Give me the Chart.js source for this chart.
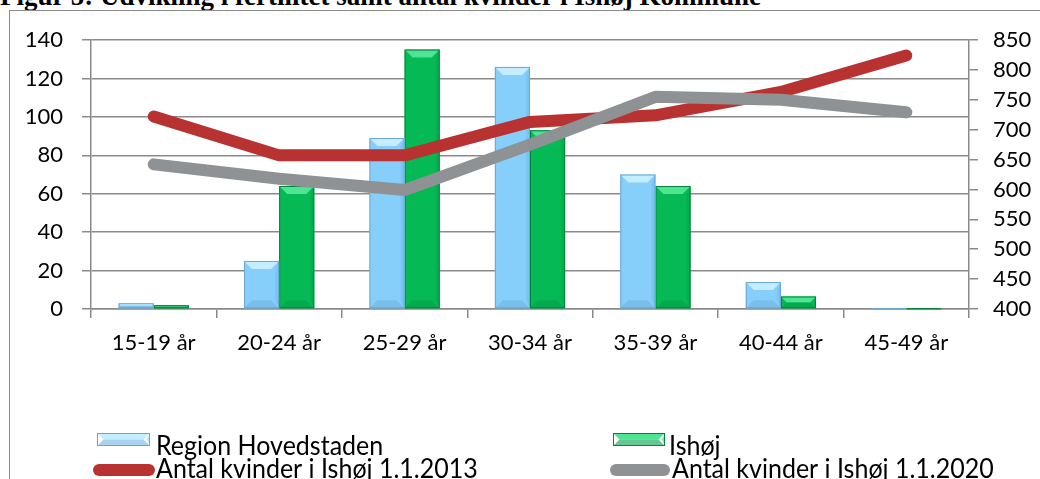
<!DOCTYPE html>
<html>
<head>
<meta charset="utf-8">
<script src="https://cdn.jsdelivr.net/npm/chart.js@4"></script>
<style>
  html, body { margin: 0; padding: 0; background: #fff; overflow: hidden; }
  #wrap { position: relative; width: 1040px; height: 479px; overflow: hidden; }
  #title { position: absolute; left: 0; top: -17px; font: bold 27px/27px "Liberation Serif", serif; white-space: nowrap; color: #000; }
  #frame { position: absolute; left: 9px; top: 10px; width: 1100px; height: 600px; border: 1.5px solid #8a8a8a; }
  canvas { position: absolute; left: 0; top: 0; }
</style>
</head>
<body>
<div id="wrap">
  <div id="title">Figur 5: Udvikling i fertilitet samt antal kvinder i Ishøj Kommune</div>
  <div id="frame"></div>
  <canvas id="fertChart" width="1040" height="479"></canvas>
</div>
<script>
// age groups
const ageGroups = ['15-19 år', '20-24 år', '25-29 år', '30-34 år', '35-39 år', '40-44 år', '45-49 år'];

// fertility per 1000 women (left axis)
const regionHovedstaden = [3, 25, 89, 126, 70, 14, 0.3];
const ishoj = [2, 64, 135, 93, 64, 6.5, 0.3];

// number of women (right axis)
const kvinder2013 = [722, 657, 657, 713, 724, 763, 824];
const kvinder2020 = [642, 618, 599, 675, 755, 750, 729];

// tick labels
const leftTicks = [0, 20, 40, 60, 80, 100, 120, 140];
const rightTicks = [400, 450, 500, 550, 600, 650, 700, 750, 800, 850];

const gridGrey = '#8a8a8a';
const blue = { fill: '#86cffb', light: '#c4eeff', dark: '#6fb4e6', edge: '#6aa6d6' };
const green = { fill: '#05ba55', light: '#4fe394', dark: '#04a049', edge: '#03843a' };

Chart.defaults.font.family = 'Lato';
Chart.defaults.font.size = 22;
Chart.defaults.color = '#000';

function bevel(ctx, l, t, r, b, c) {
    const h = b - t;
    const s = Math.min(8, h / 2, (r - l) / 2);
    ctx.save();
    ctx.fillStyle = c.light;
    ctx.beginPath();
    ctx.moveTo(l, t); ctx.lineTo(r, t); ctx.lineTo(r - s, t + s); ctx.lineTo(l + s, t + s); ctx.closePath();
    ctx.fill();
    ctx.fillStyle = c.dark;
    ctx.globalAlpha = 0.6;
    ctx.beginPath();
    ctx.moveTo(l, b); ctx.lineTo(r, b); ctx.lineTo(r - s, b - s); ctx.lineTo(l + s, b - s); ctx.closePath();
    ctx.fill();
    ctx.globalAlpha = 0.4;
    ctx.beginPath();
    ctx.moveTo(r, t); ctx.lineTo(r, b); ctx.lineTo(r - s / 2, b - s); ctx.lineTo(r - s / 2, t + s); ctx.closePath();
    ctx.fill();
    ctx.globalAlpha = 1;
    ctx.strokeStyle = c.edge;
    ctx.lineWidth = 1;
    ctx.strokeRect(l + 0.5, t + 0.5, r - l - 1, Math.max(0, h - 1));
    ctx.restore();
}

const barBevel = {
    id: 'barBevel',
    afterDatasetDraw(chart, args) {
        const ds = chart.data.datasets[args.index];
        if (ds.type !== 'bar') return;
        const c = ds.bevel;
        args.meta.data.forEach(el => {
            const p = el.getProps(['x', 'y', 'base', 'width'], true);
            bevel(chart.ctx, p.x - p.width / 2, Math.min(p.y, p.base), p.x + p.width / 2, Math.max(p.y, p.base), c);
        });
    }
};

function legendText(ctx, text, x, y) {
    ctx.save();
    ctx.translate(x, y);
    ctx.scale(1, 1.1);
    ctx.fillText(text, 0, 0);
    ctx.restore();
}

const customLegend = {
    id: 'customLegend',
    afterDraw(chart) {
        const ctx = chart.ctx;
        ctx.save();
        ctx.font = '25px Lato';
        ctx.fillStyle = '#000';
        ctx.textBaseline = 'alphabetic';
        // bars
        bevel(ctx, 97, 433, 150, 446, blue);
        legendText(ctx, 'Region Hovedstaden', 156, 455);
        bevel(ctx, 613, 433, 665, 446, green);
        legendText(ctx, 'Ishøj', 669, 455);
        // lines
        ctx.lineCap = 'round';
        ctx.lineWidth = 12;
        ctx.strokeStyle = '#b83232';
        ctx.beginPath(); ctx.moveTo(99, 470); ctx.lineTo(149, 470); ctx.stroke();
        legendText(ctx, 'Antal kvinder i Ishøj 1.1.2013', 156, 478);
        ctx.strokeStyle = '#8e9294';
        ctx.beginPath(); ctx.moveTo(616, 470); ctx.lineTo(664, 470); ctx.stroke();
        legendText(ctx, 'Antal kvinder i Ishøj 1.1.2020', 672, 478);
        ctx.restore();
    }
};

const ctx = document.getElementById('fertChart').getContext('2d');
new Chart(ctx, {
    type: 'bar',
    data: {
        labels: ageGroups,
        datasets: [
            {
                type: 'bar', label: 'Region Hovedstaden', data: regionHovedstaden,
                backgroundColor: blue.fill, bevel: blue, yAxisID: 'y', order: 3,
                categoryPercentage: 0.56, barPercentage: 1
            },
            {
                type: 'bar', label: 'Ishøj', data: ishoj,
                backgroundColor: green.fill, bevel: green, yAxisID: 'y', order: 4,
                categoryPercentage: 0.56, barPercentage: 1
            },
            {
                type: 'line', label: 'Antal kvinder i Ishøj 1.1.2013', data: kvinder2013,
                borderColor: '#b83232', borderWidth: 12, borderCapStyle: 'round', borderJoinStyle: 'round',
                pointRadius: 0, tension: 0, fill: false, yAxisID: 'y1', order: 2
            },
            {
                type: 'line', label: 'Antal kvinder i Ishøj 1.1.2020', data: kvinder2020,
                borderColor: '#8e9294', borderWidth: 12, borderCapStyle: 'round', borderJoinStyle: 'round',
                pointRadius: 0, tension: 0, fill: false, yAxisID: 'y1', order: 1
            }
        ]
    },
    options: {
        responsive: false,
        animation: false,
        layout: { padding: { top: 40, bottom: 110, left: 0, right: 0 } },
        plugins: {
            legend: { display: false },
            tooltip: { enabled: false }
        },
        scales: {
            x: {
                afterFit: s => { s.height = 60; },
                grid: { drawOnChartArea: false, drawTicks: true, tickLength: 9, color: gridGrey, lineWidth: 1.5 },
                border: { color: gridGrey, width: 1.5 },
                ticks: { padding: 12, maxRotation: 0 }
            },
            y: {
                position: 'left',
                min: 0, max: 140,
                afterBuildTicks: s => { s.ticks = leftTicks.map(v => ({ value: v })); },
                afterFit: s => { s.width = 91; },
                grid: { color: gridGrey, lineWidth: 1.5, tickLength: 9 },
                border: { color: gridGrey, width: 1.5 },
                ticks: { padding: 19 }
            },
            y1: {
                position: 'right',
                min: 400, max: 850,
                afterBuildTicks: s => { s.ticks = rightTicks.map(v => ({ value: v })); },
                afterFit: s => { s.width = 71; },
                grid: { drawOnChartArea: false, color: gridGrey, lineWidth: 1.5, tickLength: 9 },
                border: { color: gridGrey, width: 1.5 },
                ticks: { padding: 15 }
            }
        }
    },
    plugins: [barBevel, customLegend]
});
</script>
</body>
</html>
